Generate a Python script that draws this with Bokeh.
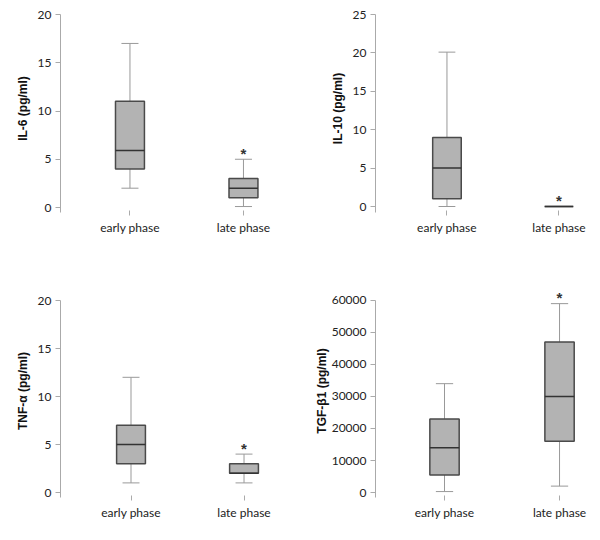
from bokeh.plotting import figure
from bokeh.layouts import gridplot
from bokeh.models import Range1d, FixedTicker, ColumnDataSource
from bokeh.core.properties import value
from bokeh.embed import file_html
from bokeh.resources import INLINE

# ---- data ----
categories = ["early phase", "late phase"]
x_pos = [1, 2]
significant = [False, True]

il6_min = [2, 0.1]
il6_q1 = [4, 1]
il6_med = [5.9, 2]
il6_q3 = [11, 3]
il6_max = [17, 5]
il6_ticks = [0, 5, 10, 15, 20]

il10_min = [0, 0]
il10_q1 = [1, 0]
il10_med = [5, 0]
il10_q3 = [9, 0]
il10_max = [20.1, 0]
il10_ticks = [0, 5, 10, 15, 20, 25]

tnf_min = [1, 1]
tnf_q1 = [3, 2]
tnf_med = [5, 2]
tnf_q3 = [7, 3]
tnf_max = [12, 4]
tnf_ticks = [0, 5, 10, 15, 20]

tgf_min = [300, 2000]
tgf_q1 = [5500, 16000]
tgf_med = [14000, 30000]
tgf_q3 = [23000, 47000]
tgf_max = [34000, 59000]
tgf_ticks = [0, 10000, 20000, 30000, 40000, 50000, 60000]

BOX_W = 0.255
CAP_W = 0.15
TICK_FONT = "Lato"
LABEL_FONT = "Liberation Sans"


def panel(ylabel, mins, q1, med, q3, maxs, ticks, xr, width, height,
          bl, br, top_px, zero_px, bottom_px, extra_px, lab_standoff):
    top = ticks[-1]
    s = (zero_px - top_px) / top
    lo = -(bottom_px - zero_px) / s
    hi = top + extra_px / s
    bt = top_px - extra_px
    bb = height - bottom_px
    p = figure(width=width, height=height, output_backend="svg",
               toolbar_location=None, x_range=Range1d(*xr),
               y_range=Range1d(lo, hi),
               min_border_left=bl, min_border_right=br,
               min_border_top=bt, min_border_bottom=bb)
    p.outline_line_color = None
    p.background_fill_color = "white"
    p.border_fill_color = "white"
    p.xgrid.visible = False
    p.ygrid.visible = False

    src = ColumnDataSource(dict(
        x=x_pos, mn=mins, q1=q1, med=med, q3=q3, mx=maxs,
        left=[x - BOX_W / 2 for x in x_pos], right=[x + BOX_W / 2 for x in x_pos],
        cl=[x - CAP_W / 2 for x in x_pos], cr=[x + CAP_W / 2 for x in x_pos],
    ))
    wcol = "#999999"
    p.segment(x0="x", y0="q3", x1="x", y1="mx", source=src, line_color=wcol, line_width=1)
    p.segment(x0="x", y0="q1", x1="x", y1="mn", source=src, line_color=wcol, line_width=1)
    p.segment(x0="cl", y0="mx", x1="cr", y1="mx", source=src, line_color=wcol, line_width=1)
    p.segment(x0="cl", y0="mn", x1="cr", y1="mn", source=src, line_color=wcol, line_width=1)
    p.quad(left="left", right="right", bottom="q1", top="q3", source=src,
           fill_color="#b3b3b3", line_color="#4a4a4a", line_width=1.5)
    p.segment(x0="left", y0="med", x1="right", y1="med", source=src,
              line_color="#333333", line_width=1.5)

    sx = [x for x, sg in zip(x_pos, significant) if sg]
    sy = [m for m, sg in zip(maxs, significant) if sg]
    p.text(x=sx, y=sy, text=["*"] * len(sx), text_align="center",
           text_baseline="alphabetic", y_offset=-6,
           text_font=value(LABEL_FONT), text_font_style="bold",
           text_font_size="15px", text_color="#333333")

    ya = p.yaxis[0]
    ya.bounds = (lo, top)
    ya.ticker = FixedTicker(ticks=ticks)
    ya.minor_tick_line_color = None
    ya.major_tick_in = 0
    ya.major_tick_out = 5
    ya.axis_line_color = "#aaaaaa"
    ya.major_tick_line_color = "#aaaaaa"
    ya.major_label_standoff = 4
    ya.major_label_text_font = TICK_FONT
    ya.major_label_text_font_size = "12px"
    ya.major_label_text_color = "#222222"
    ya.axis_label = ylabel
    ya.axis_label_text_font = LABEL_FONT
    ya.axis_label_text_font_style = "bold"
    ya.axis_label_text_font_size = "12px"
    ya.axis_label_text_color = "#111111"
    ya.axis_label_standoff = lab_standoff

    xa = p.xaxis[0]
    xa.ticker = FixedTicker(ticks=x_pos)
    xa.major_label_overrides = {x: c for x, c in zip(x_pos, categories)}
    xa.minor_tick_line_color = None
    xa.axis_line_color = None
    xa.major_tick_line_color = "#aaaaaa"
    xa.major_tick_in = 2
    xa.major_tick_out = 3
    xa.major_label_standoff = 4
    xa.major_label_text_font = TICK_FONT
    xa.major_label_text_font_size = "12px"
    xa.major_label_text_color = "#222222"
    return p


p1 = panel("IL-6 (pg/ml)", il6_min, il6_q1, il6_med, il6_q3, il6_max, il6_ticks,
           (0.388, 2.432), 300, 260, 60, 8, 14, 207, 212, 10, 5)
p2 = panel("IL-10 (pg/ml)", il10_min, il10_q1, il10_med, il10_q3, il10_max, il10_ticks,
           (0.362, 2.228), 300, 260, 75, 16, 14, 206, 212, 10, 5)
p3 = panel("TNF-α (pg/ml)", tnf_min, tnf_q1, tnf_med, tnf_q3, tnf_max, tnf_ticks,
           (0.376, 2.429), 300, 280, 60, 8, 40, 232, 237, 16, 5)
p4 = panel("TGF-β1 (pg/ml)", tgf_min, tgf_q1, tgf_med, tgf_q3, tgf_max, tgf_ticks,
           (0.4, 2.217), 300, 280, 75, 16, 39, 232, 237, 16, 0)

grid = gridplot([[p1, p2], [p3, p4]], toolbar_location=None)
open("out.html", "w").write(file_html(grid, INLINE))
